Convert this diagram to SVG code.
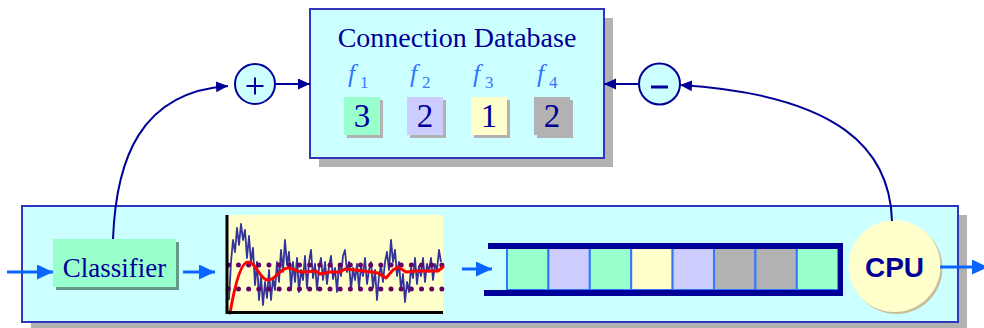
<svg xmlns="http://www.w3.org/2000/svg" width="984" height="328" viewBox="0 0 984 328">
  <defs>
    <style>
      .panel { fill: #ccffff; stroke: #3333bb; stroke-width: 2; }
      .shadow { fill: #b2b2b2; }
      .navy { fill: #000099; }
      .serif { font-family: "Liberation Serif", "Times New Roman", serif; }
      .title { font-size: 28px; fill: #000099; }
      .num { font-size: 33px; fill: #000099; text-anchor: middle; }
      .fl { font-size: 26px; font-style: italic; fill: #3377ff; }
      .fs { font-size: 17px; fill: #3377ff; }
      .flow { stroke: #0a64ff; stroke-width: 3; fill: none; }
      .fb { stroke: #000099; stroke-width: 2; fill: none; }
      .cell { stroke: #3377ff; stroke-width: 2; }
      .mint { fill: #99ffcc; }
      .lav { fill: #ccccff; }
      .yel { fill: #ffffcc; }
      .gray { fill: #b2b2b2; }
    </style>
    <marker id="flowHead" markerUnits="userSpaceOnUse" markerWidth="16" markerHeight="16" refX="16" refY="7.5" orient="auto">
      <path d="M0,0 L16,7.5 L0,15 z" fill="#0a64ff"/>
    </marker>
    <marker id="fbHead" markerUnits="userSpaceOnUse" markerWidth="12" markerHeight="12" refX="12" refY="5.5" orient="auto">
      <path d="M0,0 L12,5.5 L0,11 z" fill="#000099"/>
    </marker>
  </defs>

  <!-- main pipeline panel -->
  <g id="pipeline">
    <rect class="shadow" x="31" y="215" width="936" height="116"/>
    <rect class="panel" x="22" y="206" width="936" height="116"/>
  </g>

  <!-- connection database -->
  <g id="database">
    <rect class="shadow" x="319" y="18" width="294" height="149"/>
    <rect class="panel" x="310" y="9" width="294" height="149"/>
    <text class="serif title" x="457" y="47" text-anchor="middle">Connection Database</text>
    <text class="serif fl" x="348" y="82">f</text><text class="serif fs" x="360" y="88">1</text>
    <text class="serif fl" x="410" y="82">f</text><text class="serif fs" x="422" y="88">2</text>
    <text class="serif fl" x="473" y="82">f</text><text class="serif fs" x="485" y="88">3</text>
    <text class="serif fl" x="537" y="82">f</text><text class="serif fs" x="549" y="88">4</text>
    <g id="count-f1">
      <rect class="shadow" x="347" y="100" width="36" height="38"/>
      <rect class="mint" x="344" y="97" width="36" height="38"/>
      <text class="serif num" x="362" y="127">3</text>
    </g>
    <g id="count-f2">
      <rect class="shadow" x="410" y="100" width="36" height="38"/>
      <rect class="lav" x="407" y="97" width="36" height="38"/>
      <text class="serif num" x="425" y="127">2</text>
    </g>
    <g id="count-f3">
      <rect class="shadow" x="474" y="100" width="36" height="38"/>
      <rect class="yel" x="471" y="97" width="36" height="38"/>
      <text class="serif num" x="489" y="127">1</text>
    </g>
    <g id="count-f4">
      <rect class="shadow" x="537" y="100" width="36" height="38"/>
      <rect class="gray" x="534" y="97" width="36" height="38"/>
      <text class="serif num" x="552" y="127">2</text>
    </g>
  </g>

  <!-- increment / decrement operators -->
  <g id="plus">
    <circle cx="255" cy="84" r="20" fill="#ccffff" stroke="#000099" stroke-width="2"/>
    <path d="M246.5,86 H263.5 M255,77.5 V94.5" stroke="#000099" stroke-width="2"/>
  </g>
  <g id="minus">
    <circle cx="659.5" cy="84" r="20.5" fill="#ccffff" stroke="#000099" stroke-width="2"/>
    <path d="M651,87 H668" stroke="#000099" stroke-width="3"/>
  </g>

  <!-- classifier -->
  <g id="classifier">
    <rect x="56" y="242" width="123" height="48" fill="#669988"/>
    <rect class="mint" x="53" y="239" width="123" height="48"/>
    <text class="serif" x="114.5" y="277" font-size="27" fill="#000099" text-anchor="middle">Classifier</text>
  </g>

  <!-- rate estimator plot -->
  <g id="estimator">
    <rect x="226" y="215" width="217" height="98" fill="#ffffcc"/>
    <polyline fill="none" stroke="#333399" stroke-width="1.8" stroke-linejoin="round" points="229,300 231,262 233,240 235,252 237,228 239,245 241,224 243,240 245,230 247,258 249,236 251,262 253,248 255,285 257,262 259,300 261,276 263,305 265,282 267,298 269,270 271,300 273,278 275,290 277,262 279,282 281,250 283,272 285,240 287,265 289,252 291,290 293,262 295,282 297,258 299,292 301,270 303,280 305,256 307,288 309,262 311,250 313,278 315,264 317,290 319,268 321,258 323,280 325,262 327,284 329,266 331,256 333,279 335,268 337,292 339,264 341,276 343,256 345,250 347,272 349,262 351,290 353,268 355,280 357,264 359,288 361,266 363,276 365,258 367,284 369,270 371,262 373,288 375,270 377,300 379,276 381,266 383,282 385,262 387,252 389,270 391,240 393,262 395,250 397,276 399,262 401,290 403,274 405,302 407,282 409,292 411,268 413,278 415,258 417,284 419,266 421,276 423,258 425,282 427,264 429,272 431,258 433,280 435,264 437,270 439,250 441,262"/>
    <path d="M228.3,265 H442 M228.3,289 H442" stroke="#660066" stroke-width="5" stroke-linecap="round" stroke-dasharray="0 10.17" fill="none"/>
    <path d="M230,313 C234,290 240,262 248,262 C256,262 260,280 268,280 C276,280 280,268 288,268 C294,268 296,272 304,272 L316,271 L320,274 L330,272 L340,272 L345,269 L355,270 L372,272 L378,273 L386,278 L393,270 L398,267 L406,272 L416,271 L438,271 L443,267" fill="none" stroke="#ff0000" stroke-width="3" stroke-linejoin="round" stroke-linecap="round"/>
    <path d="M227,215 V312.5 H443" fill="none" stroke="#000000" stroke-width="3"/>
  </g>

  <!-- output queue -->
  <g id="queue">
    <rect class="cell mint" x="507" y="248" width="41.4" height="42"/>
    <rect class="cell lav" x="548.4" y="248" width="41.4" height="42"/>
    <rect class="cell mint" x="589.8" y="248" width="41.4" height="42"/>
    <rect class="cell yel" x="631.2" y="248" width="41.4" height="42"/>
    <rect class="cell lav" x="672.6" y="248" width="41.4" height="42"/>
    <rect class="cell gray" x="714" y="248" width="41.4" height="42"/>
    <rect class="cell gray" x="755.4" y="248" width="41.4" height="42"/>
    <rect class="cell mint" x="796.8" y="248" width="41.4" height="42"/>
    <rect class="navy" x="488" y="243" width="355" height="6"/>
    <rect class="navy" x="484" y="290" width="359" height="6"/>
    <rect class="navy" x="838" y="243" width="5" height="53"/>
  </g>

  <!-- processor -->
  <g id="cpu">
    <circle cx="896.5" cy="268" r="46" fill="#c8bf98"/>
    <circle cx="894.5" cy="266" r="46" fill="#ffffcc"/>
    <text x="894.5" y="277" font-family="Liberation Sans, Arial, sans-serif" font-size="28" font-weight="bold" fill="#000099" text-anchor="middle">CPU</text>
  </g>

  <!-- connectors -->
  <g id="connectors">
    <path class="flow" d="M7,272 H53" marker-end="url(#flowHead)"/>
    <path class="flow" d="M183,272 H215" marker-end="url(#flowHead)"/>
    <path class="flow" d="M462,269 H492" marker-end="url(#flowHead)"/>
    <path class="flow" d="M940,267 H988" marker-end="url(#flowHead)"/>
    <path class="fb" d="M113,239 C116,160 140,92 228,86" marker-end="url(#fbHead)"/>
    <path class="fb" d="M275,84 H310" marker-end="url(#fbHead)"/>
    <path class="fb" d="M892,221 C890,150 840,95 680,85" marker-end="url(#fbHead)"/>
    <path class="fb" d="M639,84 H604" marker-end="url(#fbHead)"/>
  </g>
</svg>
